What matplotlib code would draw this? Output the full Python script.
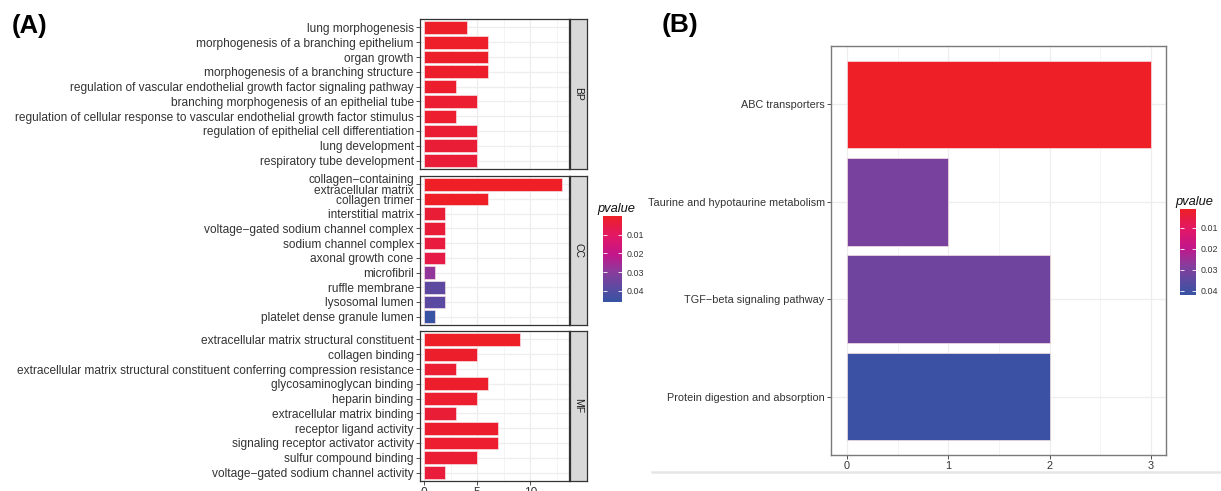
import numpy as np
import matplotlib.pyplot as plt
from matplotlib.colors import LinearSegmentedColormap, Normalize
from matplotlib.cm import ScalarMappable
from matplotlib.lines import Line2D

plt.rcParams['font.family'] = ['Liberation Sans', 'DejaVu Sans']

W, H = 1221, 491

# ---- panel A data (GO enrichment) ----
bp_terms = ["lung morphogenesis", "morphogenesis of a branching epithelium", "organ growth",
            "morphogenesis of a branching structure",
            "regulation of vascular endothelial growth factor signaling pathway",
            "branching morphogenesis of an epithelial tube",
            "regulation of cellular response to vascular endothelial growth factor stimulus",
            "regulation of epithelial cell differentiation", "lung development",
            "respiratory tube development"]
bp_counts = [4, 6, 6, 6, 3, 5, 3, 5, 5, 5]
bp_pvals = [0.0008, 0.0006, 0.0010, 0.0012, 0.0015, 0.0020, 0.0018, 0.0025, 0.0030, 0.0032]

cc_terms = ["collagen\u2212containing\nextracellular matrix", "collagen trimer", "interstitial matrix",
            "voltage\u2212gated sodium channel complex", "sodium channel complex",
            "axonal growth cone", "microfibril", "ruffle membrane", "lysosomal lumen",
            "platelet dense granule lumen"]
cc_counts = [13, 6, 2, 2, 2, 2, 1, 2, 2, 1]
cc_pvals = [0.0001, 0.0004, 0.0030, 0.0035, 0.0045, 0.0060, 0.0285, 0.0380, 0.0385, 0.0458]

mf_terms = ["extracellular matrix structural constituent", "collagen binding",
            "extracellular matrix structural constituent conferring compression resistance",
            "glycosaminoglycan binding", "heparin binding", "extracellular matrix binding",
            "receptor ligand activity", "signaling receptor activator activity",
            "sulfur compound binding", "voltage\u2212gated sodium channel activity"]
mf_counts = [9, 5, 3, 6, 5, 3, 7, 7, 5, 2]
mf_pvals = [0.0001, 0.0010, 0.0020, 0.0012, 0.0018, 0.0030, 0.0015, 0.0016, 0.0025, 0.0040]

# ---- panel B data (KEGG) ----
kegg_terms = ["ABC transporters", "Taurine and hypotaurine metabolism",
              "TGF\u2212beta signaling pathway", "Protein digestion and absorption"]
kegg_counts = [3, 1, 2, 2]
kegg_pvals = [0.0010, 0.0305, 0.0320, 0.0415]

cb_ticks = [0.01, 0.02, 0.03, 0.04]

cmap = LinearSegmentedColormap.from_list(
    "pv", [(0.0, "#EE1F26"), (0.25, "#E0176A"), (0.45, "#C2168A"),
           (0.65, "#8A3C9C"), (0.85, "#584BA1"), (1.0, "#3853A4")])

TXT = "#333333"
GRID = "#EEEEEE"


def box(x0, y0, x1, y1):
    return [x0 / W, 1 - y1 / H, (x1 - x0) / W, (y1 - y0) / H]


def bars(ax, terms, counts, pvals, norm, height, ylim, xlim, size):
    y = np.arange(1, len(terms) + 1)
    ax.barh(y, counts, height=height, color=cmap(norm(np.array(pvals))),
            edgecolor="#F6E0E4", linewidth=0.5, zorder=3)
    ax.set_yticks(y)
    ax.set_yticklabels(terms, fontsize=size, color=TXT, linespacing=0.85)
    ax.set_ylim(*ylim)
    ax.set_xlim(*xlim)
    ax.grid(True, which="major", color=GRID, linewidth=0.9, zorder=0)
    ax.grid(True, which="minor", axis="x", color=GRID, linewidth=0.45, zorder=0)
    ax.tick_params(axis="both", length=3, width=0.6, color=TXT, pad=1.5,
                   labelsize=size, labelcolor=TXT)
    ax.tick_params(which="minor", length=0)
    ax.set_axisbelow(True)


def colorbar(fig, rect, norm, title):
    cax = fig.add_axes(rect)
    cb = fig.colorbar(ScalarMappable(norm=norm, cmap=cmap), cax=cax)
    cb.outline.set_visible(False)
    cax.invert_yaxis()
    cb.set_ticks(cb_ticks)
    cb.set_ticklabels(["%.2f" % t for t in cb_ticks])
    cax.tick_params(direction="in", length=3, width=0.6, color="white",
                    left=True, right=True, labelsize=6.4, labelcolor=TXT, pad=3)
    cax.set_title(title, fontsize=9.3, style="italic", color="#111111",
                  loc="left", pad=3, x=-0.3)


fig = plt.figure(figsize=(W / 100, H / 100), dpi=100)

# ---- panel A ----
normA = Normalize(0.0001, 0.046)
facets = [("BP", bp_terms, bp_counts, bp_pvals, 19, 169),
          ("CC", cc_terms, cc_counts, cc_pvals, 176, 325),
          ("MF", mf_terms, mf_counts, mf_pvals, 331, 481)]
for name, terms, counts, pvals, top, bot in facets:
    ax = fig.add_axes(box(420, top, 569, bot))
    bars(ax, terms, counts, pvals, normA, 0.86, (10.57, 0.43), (-0.4, 13.65), 8.6)
    ax.set_xticks([0, 5, 10])
    ax.set_xticks([2.5, 7.5, 12.5], minor=True)
    if name != "MF":
        ax.tick_params(axis="x", labelbottom=False, length=0)
    for s in ax.spines.values():
        s.set_color("#333333")
        s.set_linewidth(0.9)
    sax = fig.add_axes(box(570, top, 587, bot))
    sax.set_facecolor("#D9D9D9")
    sax.set_xticks([])
    sax.set_yticks([])
    for s in sax.spines.values():
        s.set_color("#333333")
        s.set_linewidth(0.9)
    sax.text(0.5, 0.5, name, rotation=-90, ha="center", va="center",
             fontsize=7.5, color="#1A1A1A", transform=sax.transAxes)

colorbar(fig, box(603, 216, 622, 302), normA, "pvalue")

# ---- panel B ----
normB = Normalize(0.001, 0.042)
axb = fig.add_axes(box(831, 46, 1166, 455))
bars(axb, kegg_terms, kegg_counts, kegg_pvals, normB, 0.9, (4.6, 0.4), (-0.158, 3.15), 7.8)
axb.set_xticks([0, 1, 2, 3])
axb.set_xticks([0.5, 1.5, 2.5], minor=True)
for s in axb.spines.values():
    s.set_color("#7A7A7A")
    s.set_linewidth(1.0)

colorbar(fig, box(1180, 209, 1196, 295), normB, "pvalue")

fig.add_artist(Line2D([652 / W, 1], [1 - 472 / H, 1 - 472 / H],
                      color="#E6E6E6", linewidth=1.8, transform=fig.transFigure))

fig.text(12 / W, 1 - 26 / H, "(A)", fontsize=18.5, fontweight="bold", va="center")
fig.text(662 / W, 1 - 25 / H, "(B)", fontsize=19, fontweight="bold", va="center")

fig.savefig("out.png", dpi=100)
